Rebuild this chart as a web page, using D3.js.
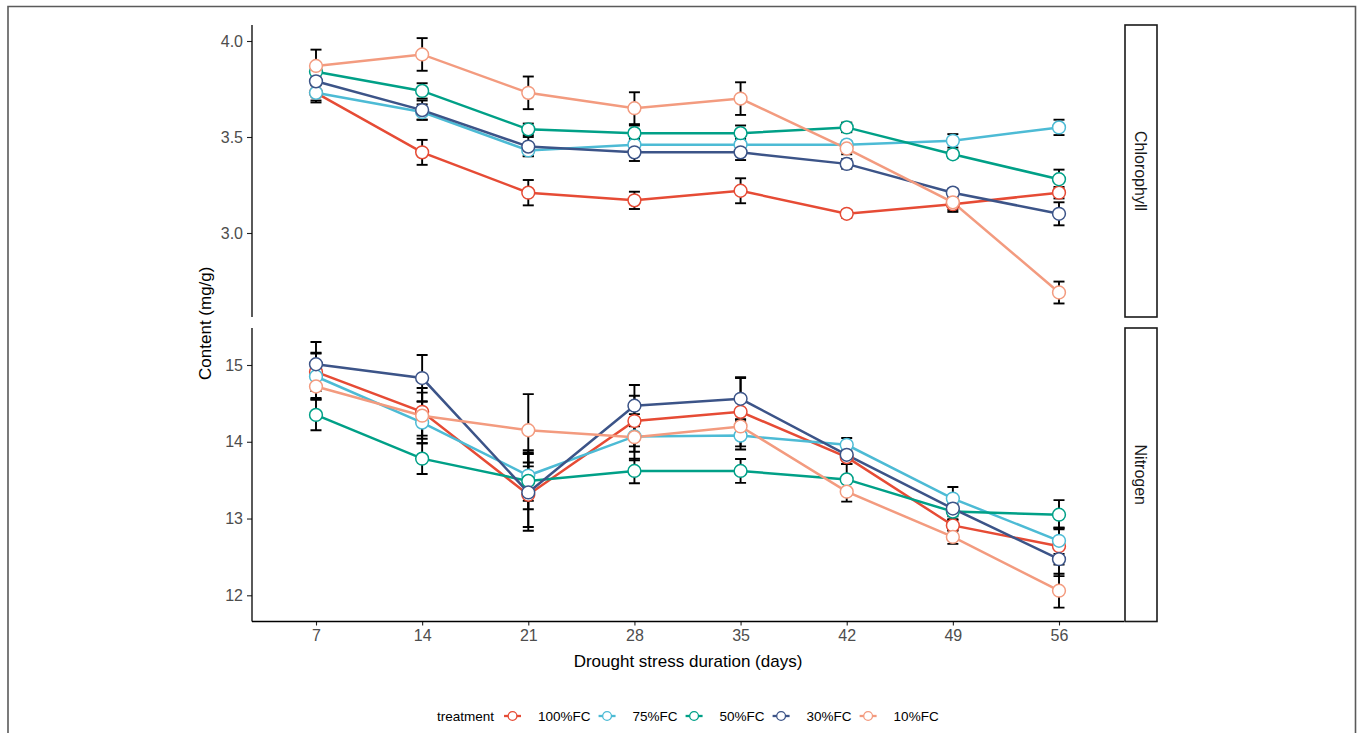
<!DOCTYPE html>
<html>
<head>
<meta charset="utf-8">
<script src="https://cdn.jsdelivr.net/npm/d3@7"></script>
<style>
  html, body { margin: 0; padding: 0; background: #fff; }
  svg { display: block; }
  text { font-family: "Liberation Sans", Arial, sans-serif; }
</style>
</head>
<body>
<svg id="chart" width="1360" height="733"></svg>
<script>
// ---------------- DATA ----------------
const days = [7, 14, 21, 28, 35, 42, 49, 56];
const treatments = ["100%FC", "75%FC", "50%FC", "30%FC", "10%FC"];
const colors = ["#E64B35", "#4DBBD5", "#00A087", "#3C5488", "#F39B7F"];
const facets = ["Chlorophyll", "Nitrogen"];

// Chlorophyll means and standard errors
const chl100 = [3.73, 3.42, 3.21, 3.17, 3.22, 3.10, 3.15, 3.21];
const chl75  = [3.73, 3.63, 3.43, 3.46, 3.46, 3.46, 3.48, 3.55];
const chl50  = [3.84, 3.74, 3.54, 3.52, 3.52, 3.55, 3.41, 3.28];
const chl30  = [3.79, 3.64, 3.45, 3.42, 3.42, 3.36, 3.21, 3.10];
const chl10  = [3.87, 3.93, 3.73, 3.65, 3.70, 3.44, 3.16, 2.69];
const chlSe100 = [0.05, 0.065, 0.066, 0.045, 0.065, 0.02, 0.03, 0.03];
const chlSe75  = [0.04, 0.04, 0.03, 0.03, 0.03, 0.02, 0.035, 0.04];
const chlSe50  = [0.03, 0.04, 0.03, 0.04, 0.04, 0.025, 0.02, 0.05];
const chlSe30  = [0.05, 0.05, 0.05, 0.045, 0.04, 0.025, 0.02, 0.06];
const chlSe10  = [0.085, 0.085, 0.085, 0.083, 0.085, 0.03, 0.05, 0.057];

// Nitrogen means and standard errors
const nit100 = [14.91, 14.39, 13.31, 14.27, 14.39, 13.80, 12.91, 12.64];
const nit75  = [14.85, 14.25, 13.56, 14.07, 14.08, 13.96, 13.26, 12.71];
const nit50  = [14.35, 13.78, 13.49, 13.62, 13.62, 13.51, 13.09, 13.05];
const nit30  = [15.01, 14.83, 13.34, 14.47, 14.56, 13.83, 13.13, 12.47];
const nit10  = [14.72, 14.34, 14.15, 14.06, 14.20, 13.35, 12.76, 12.06];
const nitSe100 = [0.25, 0.31, 0.42, 0.33, 0.45, 0.09, 0.07, 0.24];
const nitSe75  = [0.30, 0.27, 0.33, 0.20, 0.18, 0.09, 0.15, 0.17];
const nitSe50  = [0.20, 0.20, 0.37, 0.16, 0.155, 0.20, 0.10, 0.19];
const nitSe30  = [0.29, 0.30, 0.50, 0.27, 0.27, 0.12, 0.10, 0.22];
const nitSe10  = [0.15, 0.30, 0.47, 0.30, 0.09, 0.13, 0.09, 0.22];

const xTicks = [7, 14, 21, 28, 35, 42, 49, 56];
const chlTicks = [3.0, 3.5, 4.0];
const nitTicks = [12, 13, 14, 15];

const xTitle = "Drought stress duration (days)";
const yTitle = "Content (mg/g)";
const legendTitle = "treatment";

// ---------------- LAYOUT ----------------
const svg = d3.select("#chart");
const left = 252, right = 1124;
const stripW = 32;

const x = d3.scaleLinear().domain([7, 56]).range([316, 1059]);

const panels = [
  { name: facets[0], top: 25, bottom: 317,
    y: d3.scaleLinear().domain([3, 4]).range([233, 41]),
    ticks: chlTicks, fmt: d3.format(".1f"),
    means: [chl100, chl75, chl50, chl30, chl10],
    ses: [chlSe100, chlSe75, chlSe50, chlSe30, chlSe10] },
  { name: facets[1], top: 328, bottom: 621.5,
    y: d3.scaleLinear().domain([12, 15]).range([595.3, 365]),
    ticks: nitTicks, fmt: d3.format("d"),
    means: [nit100, nit75, nit50, nit30, nit10],
    ses: [nitSe100, nitSe75, nitSe50, nitSe30, nitSe10] }
];

// outer frame
svg.append("path")
  .attr("d", "M8,740 L8,6.5 L1355.5,6.5 L1355.5,740")
  .attr("fill", "none").attr("stroke", "#5a5a5a").attr("stroke-width", 1.6);

const line = d3.line();

panels.forEach((p, pi) => {
  const g = svg.append("g");
  const clipId = "clip" + pi;
  svg.append("clipPath").attr("id", clipId)
    .append("rect").attr("x", left).attr("y", p.top)
    .attr("width", right - left).attr("height", p.bottom - p.top);

  // y axis
  const yAxis = d3.axisLeft(p.y).tickValues(p.ticks).tickFormat(p.fmt)
    .tickSize(5).tickPadding(4);
  const ga = g.append("g").attr("transform", `translate(${left},0)`).call(yAxis);
  ga.select(".domain").remove();
  ga.selectAll(".tick line").attr("stroke", "#222").attr("stroke-width", 1.1);
  ga.selectAll(".tick text").attr("fill", "#4d4d4d").style("font-size", "16px")
    .style("font-family", '"Liberation Sans", Arial, sans-serif');
  g.append("line").attr("x1", left).attr("x2", left)
    .attr("y1", p.top).attr("y2", p.bottom)
    .attr("stroke", "#000").attr("stroke-width", 1.3);

  // strip
  g.append("rect").attr("x", right + 1).attr("y", p.top)
    .attr("width", stripW).attr("height", p.bottom - p.top)
    .attr("fill", "#fff").attr("stroke", "#1a1a1a").attr("stroke-width", 1.6);
  const cx = right + 1 + stripW / 2, cy = (p.top + p.bottom) / 2;
  g.append("text").attr("transform", `translate(${cx},${cy}) rotate(90)`)
    .attr("text-anchor", "middle").attr("dy", "0.35em")
    .style("font-size", "16px").attr("fill", "#1a1a1a").text(p.name);

  const data = g.append("g").attr("clip-path", `url(#${clipId})`);

  // error bars
  treatments.forEach((t, ti) => {
    const eb = data.append("g").attr("stroke", "#000").attr("stroke-width", 1.9);
    days.forEach((d, di) => {
      const m = p.means[ti][di], s = p.ses[ti][di];
      const xx = x(d), y1 = p.y(m + s), y2 = p.y(m - s);
      eb.append("line").attr("x1", xx).attr("x2", xx).attr("y1", y1).attr("y2", y2);
      eb.append("line").attr("x1", xx - 5.5).attr("x2", xx + 5.5).attr("y1", y1).attr("y2", y1);
      eb.append("line").attr("x1", xx - 5.5).attr("x2", xx + 5.5).attr("y1", y2).attr("y2", y2);
    });
  });

  // lines
  treatments.forEach((t, ti) => {
    data.append("path")
      .attr("d", line(days.map((d, di) => [x(d), p.y(p.means[ti][di])])))
      .attr("fill", "none").attr("stroke", colors[ti]).attr("stroke-width", 2.5);
  });
  // points
  treatments.forEach((t, ti) => {
    data.append("g").selectAll("circle").data(days).join("circle")
      .attr("cx", d => x(d))
      .attr("cy", (d, di) => p.y(p.means[ti][di]))
      .attr("r", 6.4)
      .attr("fill", "#fff").attr("stroke", colors[ti]).attr("stroke-width", 1.5);
  });
});

// x axis (bottom panel)
const xb = panels[1].bottom;
const xAxis = d3.axisBottom(x).tickValues(xTicks).tickSize(4).tickPadding(4);
const gx = svg.append("g").attr("transform", `translate(0,${xb})`).call(xAxis);
gx.select(".domain").remove();
gx.selectAll(".tick line").attr("stroke", "#222").attr("stroke-width", 1.1);
gx.selectAll(".tick text").attr("fill", "#4d4d4d").style("font-size", "16px")
  .style("font-family", '"Liberation Sans", Arial, sans-serif');
svg.append("line").attr("x1", left).attr("x2", right)
  .attr("y1", xb).attr("y2", xb).attr("stroke", "#000").attr("stroke-width", 1.3);

// axis titles
svg.append("text").attr("x", (left + right) / 2).attr("y", 667)
  .attr("text-anchor", "middle").style("font-size", "17px").attr("fill", "#000")
  .text(xTitle);
svg.append("text")
  .attr("transform", `translate(211,${(25 + 621.5) / 2}) rotate(-90)`)
  .attr("text-anchor", "middle").style("font-size", "17px").attr("fill", "#000")
  .text(yTitle);

// legend
const lg = svg.append("g").attr("transform", "translate(437,716)");
const lt = lg.append("text").attr("x", 0).attr("y", 0).attr("dy", "0.35em")
  .style("font-size", "13.5px").attr("fill", "#000").text(legendTitle);
let cur = lt.node().getComputedTextLength() + 10;
treatments.forEach((t, ti) => {
  const k = lg.append("g").attr("transform", `translate(${cur},0)`);
  k.append("line").attr("x1", 0).attr("x2", 17).attr("y1", 0).attr("y2", 0)
    .attr("stroke", colors[ti]).attr("stroke-width", 2.3);
  k.append("circle").attr("cx", 8.5).attr("cy", 0).attr("r", 4.4)
    .attr("fill", "#fff").attr("stroke", colors[ti]).attr("stroke-width", 1.3);
  const tx = lg.append("text").attr("x", cur + 17 + 17).attr("y", 0).attr("dy", "0.35em")
    .style("font-size", "13.5px").attr("fill", "#000").text(t);
  cur = cur + 17 + 17 + tx.node().getComputedTextLength() + 8;
});
</script>
</body>
</html>
